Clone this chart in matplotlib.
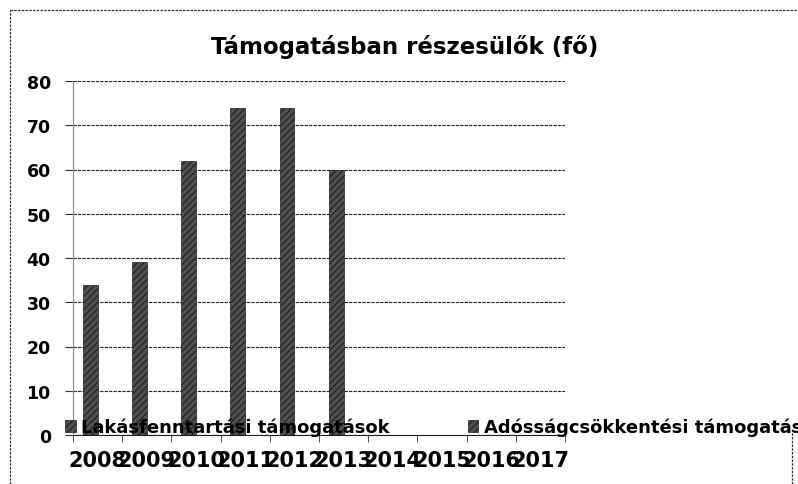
import matplotlib
matplotlib.use("Agg")
import matplotlib.pyplot as plt
import numpy as np
from matplotlib.lines import Line2D

years = ["2008", "2009", "2010", "2011", "2012", "2013", "2014", "2015", "2016", "2017"]
lakas = [34, 39, 62, 74, 74, 60, 0, 0, 0, 0]
adossag = [0, 0, 0, 0, 0, 0, 0, 0, 0, 0]
series_names = ["Lakásfenntartási támogatások", "Adósságcsökkentési támogatások"]
title = "Támogatásban részesülők (fő)"

BAR_FACE = "#505050"
BAR_EDGE = "#1e1e1e"

plt.rcParams["hatch.linewidth"] = 0.8
fig = plt.figure(figsize=(7.98, 4.85), dpi=100)
ax = fig.add_axes([73 / 798, 1 - 436 / 485, (565 - 73) / 798, (436 - 82) / 485])

x = np.arange(len(years))
w = 0.3
b1 = ax.bar(x - w / 2, lakas, w, color=BAR_FACE, edgecolor=BAR_EDGE,
            hatch="/////", linewidth=0.5, label=series_names[0])
b2 = ax.bar(x + w / 2, adossag, w, color=BAR_FACE, edgecolor=BAR_EDGE,
            hatch="/////", linewidth=0.5, label=series_names[1])

ax.set_xlim(-0.5, len(years) - 0.5)
ax.set_ylim(0, 80)
ax.set_yticks(range(0, 81, 10))
ax.yaxis.grid(True, color="#222222", linestyle=(0, (3, 1)), linewidth=0.8)
ax.set_axisbelow(True)
for s in ["top", "right"]:
    ax.spines[s].set_visible(False)
ax.spines["left"].set_color("#888888")
ax.spines["bottom"].set_linestyle((0, (3, 1)))
ax.spines["bottom"].set_color("#222222")

ax.set_xticks(np.arange(len(years) + 1) - 0.5, minor=True)
ax.set_xticks(x)
ax.set_xticklabels(years, fontsize=15, fontweight="bold")
ax.tick_params(axis="x", which="major", length=0, pad=11)
ax.tick_params(axis="x", which="minor", length=5, color="#333333")
ax.tick_params(axis="y", length=6, color="#333333", labelsize=12.5, pad=10)
for t in ax.get_yticklabels():
    t.set_fontweight("bold")

fig.text(0.507, 0.903, title, ha="center", va="center", fontsize=16.5, fontweight="bold")

fig.legend(handles=[b1, b2], labels=series_names, loc="center left",
           bbox_to_anchor=(56 / 798, 1 - 428 / 485), ncol=2, frameon=False,
           prop={"size": 13, "weight": "bold"}, handlelength=0.6, handleheight=0.6,
           handletextpad=0.3, columnspacing=4.3, borderpad=0)

dots = dict(color="#333333", linestyle=(0, (2, 1)), linewidth=0.9)
fig.add_artist(Line2D([10 / 798, 1], [1 - 11 / 485, 1 - 11 / 485], **dots))
fig.add_artist(Line2D([10 / 798, 10 / 798], [0, 1 - 11 / 485], **dots))
fig.add_artist(Line2D([792 / 798, 792 / 798], [0, 1 - 430 / 485], **dots))

fig.savefig("out.png", dpi=100)
